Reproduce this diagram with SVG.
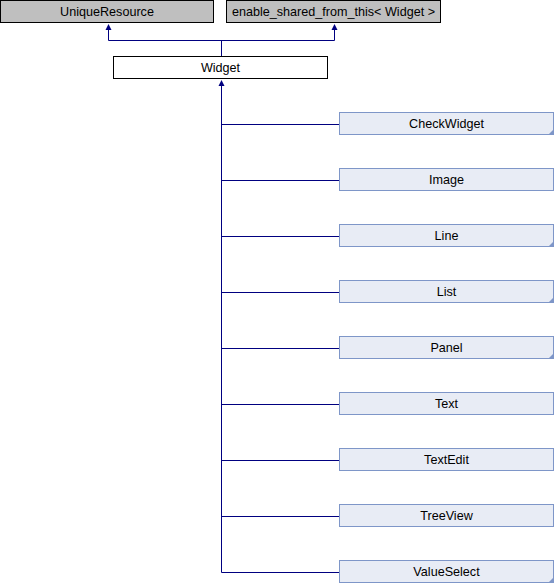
<svg xmlns="http://www.w3.org/2000/svg" width="555" height="584" viewBox="0 0 555 584">
<defs>
<style>
text{font-family:"Liberation Sans",Arial,sans-serif;font-size:12.6px;text-anchor:middle;fill:#000}
.base{fill:#bfbfbf;stroke:#000;stroke-width:1}
.self{fill:#fff;stroke:#000;stroke-width:1}
.child{fill:#e8ecf5;stroke:#7e96c8;stroke-width:1}
.corner{fill:#7e96c8}
.edge{fill:none;stroke:#000080;stroke-width:1}
.ah{fill:#000080}
</style>
</defs>
<g id="connectors">
<path class="edge" d="M108.5,29 V40.5 H334.5 V29"/>
<path class="edge" d="M221.5,40.5 V56"/>
<path class="edge" d="M221.5,85 V572.5"/>
<path class="edge" d="M221.5,124.5 H339 M221.5,180.5 H339 M221.5,236.5 H339 M221.5,292.5 H339 M221.5,348.5 H339 M221.5,404.5 H339 M221.5,460.5 H339 M221.5,516.5 H339 M221.5,572.5 H339"/>
<path class="ah" d="M108.5,24 L111.5,30 L105.5,30 Z"/>
<path class="ah" d="M334.5,24 L337.5,30 L331.5,30 Z"/>
<path class="ah" d="M221.5,80 L224.5,86 L218.5,86 Z"/>
</g>
<g id="UniqueResource">
<rect class="base" x="0.5" y="0.5" width="213" height="22"/>
<text x="107" y="16">UniqueResource</text>
</g>
<g id="enable_shared_from_this">
<rect class="base" x="226.5" y="0.5" width="214" height="22"/>
<text x="333.5" y="16">enable_shared_from_this&lt; Widget &gt;</text>
</g>
<g id="Widget">
<rect class="self" x="113.5" y="56.5" width="214" height="22"/>
<text x="220.5" y="72">Widget</text>
</g>
<g id="CheckWidget">
<rect class="child" x="339.5" y="112.5" width="214" height="22"/>
<path class="corner" d="M554,129 L554,135 L548,135 Z"/>
<text x="446.5" y="128">CheckWidget</text>
</g>
<g id="Image">
<rect class="child" x="339.5" y="168.5" width="214" height="22"/>
<text x="446.5" y="184">Image</text>
</g>
<g id="Line">
<rect class="child" x="339.5" y="224.5" width="214" height="22"/>
<path class="corner" d="M554,241 L554,247 L548,247 Z"/>
<text x="446.5" y="240">Line</text>
</g>
<g id="List">
<rect class="child" x="339.5" y="280.5" width="214" height="22"/>
<path class="corner" d="M554,297 L554,303 L548,303 Z"/>
<text x="446.5" y="296">List</text>
</g>
<g id="Panel">
<rect class="child" x="339.5" y="336.5" width="214" height="22"/>
<path class="corner" d="M554,353 L554,359 L548,359 Z"/>
<text x="446.5" y="352">Panel</text>
</g>
<g id="Text">
<rect class="child" x="339.5" y="392.5" width="214" height="22"/>
<text x="446.5" y="408">Text</text>
</g>
<g id="TextEdit">
<rect class="child" x="339.5" y="448.5" width="214" height="22"/>
<text x="446.5" y="464">TextEdit</text>
</g>
<g id="TreeView">
<rect class="child" x="339.5" y="504.5" width="214" height="22"/>
<text x="446.5" y="520">TreeView</text>
</g>
<g id="ValueSelect">
<rect class="child" x="339.5" y="560.5" width="214" height="22"/>
<path class="corner" d="M554,577 L554,583 L548,583 Z"/>
<text x="446.5" y="576">ValueSelect</text>
</g>
</svg>
